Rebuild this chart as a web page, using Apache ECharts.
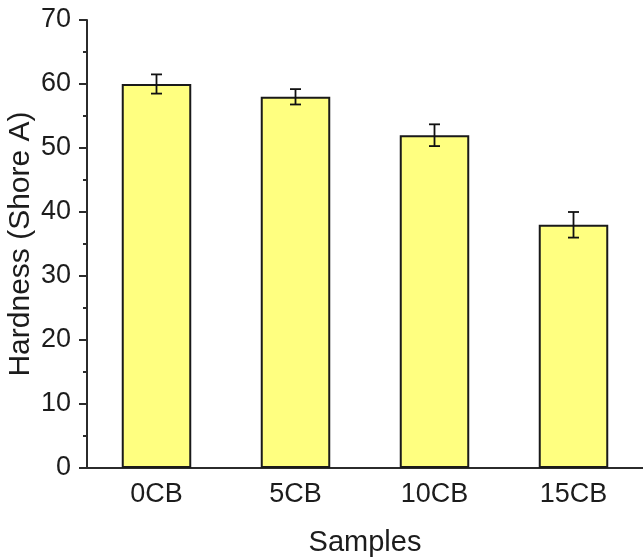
<!DOCTYPE html>
<html>
<head>
<meta charset="utf-8">
<script src="https://cdn.jsdelivr.net/npm/echarts@6/dist/echarts.min.js"></script>
<style>
html,body{margin:0;padding:0;background:#fff;}
#chart{width:643px;height:557px;}
</style>
</head>
<body>
<div id="chart"></div>
<script>
var categories = ['0CB', '5CB', '10CB', '15CB'];
var hardness = [60, 58, 52, 38];
var errors = [1.5, 1.2, 1.7, 2.0];
var yTicks = { min: 0, max: 70, interval: 10 };

var chart = echarts.init(document.getElementById('chart'), null, { renderer: 'canvas' });
var font = '"Liberation Sans", Arial, sans-serif';
var axisColor = '#2b2b2b';
var textColor = '#1c1c1c';

var errData = categories.map(function (c, i) {
  return [i, hardness[i] - errors[i], hardness[i] + errors[i]];
});

var option = {
  backgroundColor: '#ffffff',
  animation: false,
  grid: { left: 87, right: 0, top: 20, bottom: 89, containLabel: false, outerBoundsMode: 'none' },
  xAxis: [{
    type: 'category',
    data: categories,
    name: 'Samples',
    nameLocation: 'middle',
    nameGap: 60,
    nameMoveOverlap: false,
    nameTextStyle: { fontFamily: font, fontSize: 29, color: textColor },
    axisLine: { lineStyle: { color: axisColor, width: 2 } },
    axisTick: { alignWithLabel: true, length: 8, lineStyle: { color: axisColor, width: 2 } },
    axisLabel: { fontFamily: font, fontSize: 27, color: textColor, margin: 13 }
  }, {
    type: 'category',
    data: categories,
    position: 'bottom',
    axisLine: { show: false },
    axisTick: { length: 4, lineStyle: { color: axisColor, width: 2 } },
    axisLabel: { show: false }
  }],
  yAxis: {
    type: 'value',
    min: yTicks.min,
    max: yTicks.max,
    interval: yTicks.interval,
    name: 'Hardness (Shore A)',
    nameLocation: 'middle',
    nameGap: 51,
    nameMoveOverlap: false,
    nameTextStyle: { fontFamily: font, fontSize: 30, color: textColor },
    axisLine: { show: true, lineStyle: { color: axisColor, width: 2 } },
    axisTick: { show: true, length: 8, lineStyle: { color: axisColor, width: 2 } },
    minorTick: { show: true, splitNumber: 2, length: 4, lineStyle: { color: axisColor, width: 2 } },
    splitLine: { show: false },
    axisLabel: { fontFamily: font, fontSize: 27, color: textColor, margin: 16 }
  },
  series: [{
    type: 'bar',
    data: hardness,
    barWidth: '50%',
    itemStyle: { color: '#ffff80', borderColor: '#1a1a1a', borderWidth: 2 }
  }, {
    type: 'custom',
    data: errData,
    z: 10,
    renderItem: function (params, api) {
      var x = api.value(0);
      var lo = api.coord([x, api.value(1)]);
      var hi = api.coord([x, api.value(2)]);
      var hw = 5.5;
      var st = { stroke: '#111', lineWidth: 1.8 };
      return {
        type: 'group',
        children: [
          { type: 'line', shape: { x1: hi[0], y1: hi[1], x2: lo[0], y2: lo[1] }, style: st },
          { type: 'line', shape: { x1: hi[0] - hw, y1: hi[1], x2: hi[0] + hw, y2: hi[1] }, style: st },
          { type: 'line', shape: { x1: lo[0] - hw, y1: lo[1], x2: lo[0] + hw, y2: lo[1] }, style: st }
        ]
      };
    }
  }]
};
chart.setOption(option);
</script>
</body>
</html>
